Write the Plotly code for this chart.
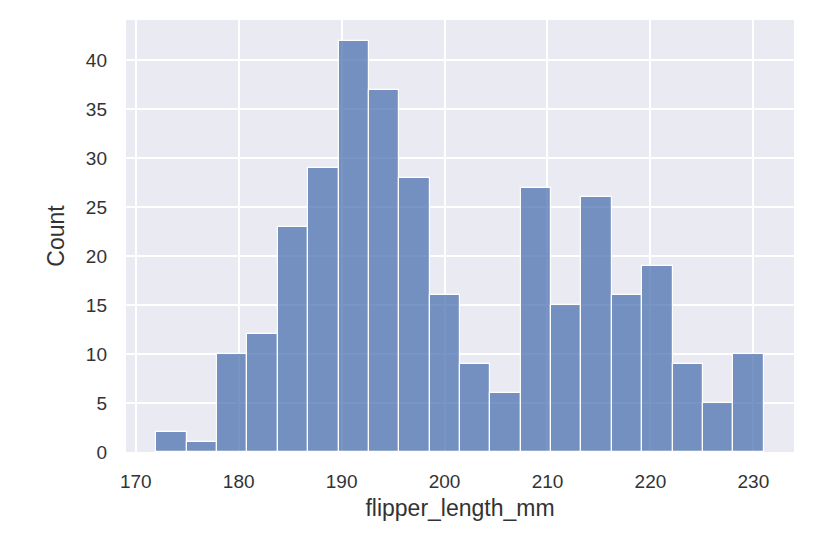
import numpy as np
import plotly.graph_objects as go

# Histogram of penguin flipper lengths (20 bins)
bin_start = 172.0
bin_end = 231.0
n_bins = 20
counts = [2, 1, 10, 12, 23, 29, 42, 37, 28, 16, 9, 6, 27, 15, 26, 16, 19, 9, 5, 10]

x_ticks = [170, 180, 190, 200, 210, 220, 230]
y_ticks = [0, 5, 10, 15, 20, 25, 30, 35, 40]

edges = np.linspace(bin_start, bin_end, n_bins + 1)
centers = (edges[:-1] + edges[1:]) / 2
width = edges[1] - edges[0]
pad = (bin_end - bin_start) * 0.05

fig = go.Figure(
    go.Bar(
        x=centers,
        y=counts,
        width=width,
        marker=dict(color="rgba(76,114,176,0.75)", line=dict(color="white", width=1.2)),
        hovertemplate="%{x}: %{y}<extra></extra>",
    )
)

# page body has an 8px margin, so the figure is a bit smaller than the window
fig.update_layout(
    width=824,
    height=532,
    margin=dict(l=118, r=38, t=12, b=88),
    paper_bgcolor="white",
    plot_bgcolor="#EAEAF2",
    font=dict(family="Liberation Sans, Arial, sans-serif", size=19, color="#333333"),
    showlegend=False,
    bargap=0,
    xaxis=dict(
        range=[bin_start - pad, bin_end + pad],
        tickvals=x_ticks,
        gridcolor="white",
        gridwidth=1.5,
        zeroline=False,
        showline=False,
        ticks="",
        ticklabelstandoff=16,
        title=dict(text="flipper_length_mm", standoff=8),
    ),
    yaxis=dict(
        range=[0, max(counts) * 1.05],
        tickvals=y_ticks,
        gridcolor="white",
        gridwidth=1.5,
        zeroline=False,
        showline=False,
        ticks="",
        ticklabelstandoff=18,
        title=dict(text="Count", standoff=14),
    ),
)

fig.write_html("out.html")
